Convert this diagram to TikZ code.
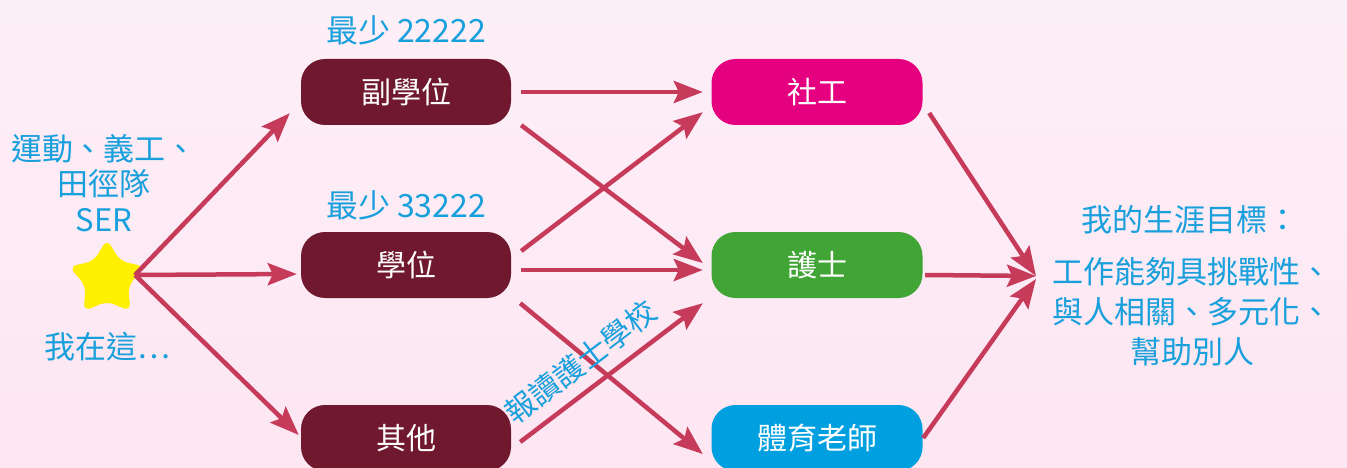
\documentclass[tikz,border=0pt]{standalone}
\usepackage{fontspec}
\setmainfont{Noto Sans CJK TC}
\usetikzlibrary{shapes.geometric,arrows.meta,calc}
\definecolor{bgtop}{RGB}{253,239,247}
\definecolor{bgbot}{RGB}{252,230,242}
\definecolor{boxdark}{RGB}{111,24,46}
\definecolor{pinkbox}{RGB}{228,0,127}
\definecolor{greenbox}{RGB}{64,165,53}
\definecolor{bluebox}{RGB}{0,160,224}
\definecolor{arrowc}{RGB}{198,58,90}
\definecolor{bluetext}{RGB}{24,160,220}
\definecolor{staryellow}{RGB}{255,240,0}
\begin{document}
\begin{tikzpicture}[x=1pt,y=-1pt,
  box/.style={rectangle,rounded corners=24pt,minimum width=210pt,minimum height=66pt,
    inner sep=0pt,text=white,font=\fontsize{30}{30}\selectfont},
  note/.style={text=bluetext,align=center,inner sep=0pt,font=\fontsize{32}{36}\selectfont},
  conn/.style={draw=arrowc,line width=4.5pt,-{Stealth[length=29pt,width=22pt,inset=5pt]}}]
\useasboundingbox (0,0) rectangle (1347,468);
\shade[top color=bgtop,bottom color=bgbot] (0,0) rectangle (1347,468);

% nodes
\node[box,fill=boxdark] (a1) at (406,92) {副學位};
\node[box,fill=boxdark] (a2) at (406,265) {學位};
\node[box,fill=boxdark] (a3) at (406,438) {其他};
\node[box,fill=pinkbox,minimum width=211pt] (s1) at (817,92) {社工};
\node[box,fill=greenbox,minimum width=211pt] (n1) at (817,265) {護士};
\node[box,fill=bluebox,minimum width=211pt] (t1) at (817,438) {體育老師};
\node[star,star points=5,star point ratio=1.8,minimum size=80pt,inner sep=0pt,
  fill=staryellow,rounded corners=8pt] (st) at (107,279) {};
\coordinate (hub) at (135,275);
\coordinate (goal) at (1036,276);

\node[note] (m1) at (406,30) {最少 22222};
\node[note] (m2) at (406,205) {最少 33222};
\node[note,font=\fontsize{31}{35.5}\selectfont] (act) at (104,183) {運動、義工、\\田徑隊\\SER};
\node[note,font=\fontsize{31}{36}\selectfont] (here) at (107,347) {我在這…};
\node[note,font=\fontsize{31}{36}\selectfont] (gt) at (1190,220) {我的生涯目標：};
\node[note,font=\fontsize{31}{40}\selectfont] (gb) at (1192,312) {工作能夠具挑戰性、\\與人相關、多元化、\\幫助別人};

% connectors
\draw[conn] (hub) -- ($(a1.south west)+(-11,-12)$);
\draw[conn] (hub) -- ($(a2.west)+(-4,9)$);
\draw[conn] (hub) -- ($(a3.west)+(-2,-3)$);
\draw[conn] ($(a1.east)+(10,0)$) -- ($(s1.west)+(-8.5,0)$);
\draw[conn] ($(a1.south east)+(10,0)$) -- ($(n1.west)+(-8.5,-2)$);
\draw[conn] ($(a2.east)+(10,-14)$) -- ($(s1.south west)+(-8.5,-13)$);
\draw[conn] ($(a2.east)+(10,5)$) -- ($(n1.west)+(-8.5,5)$);
\draw[conn] ($(a2.south east)+(9,5)$) -- ($(t1.west)+(-8.5,16)$);
\draw[conn] ($(a3.east)+(9,4)$) -- node[sloped,above=11pt,pos=0.42,inner sep=0pt,text=bluetext,
  font=\fontsize{30}{30}\selectfont] (lbl) {報讀護士學校} ($(n1.south west)+(-8.5,5)$);
\draw[conn] ($(s1.east)+(6.5,21)$) -- (goal);
\draw[conn] ($(n1.east)+(2.5,10)$) -- (goal);
\draw[conn] ($(t1.east)+(0.5,0)$) -- ($(goal)+(0,3)$);
\end{tikzpicture}
\end{document}
